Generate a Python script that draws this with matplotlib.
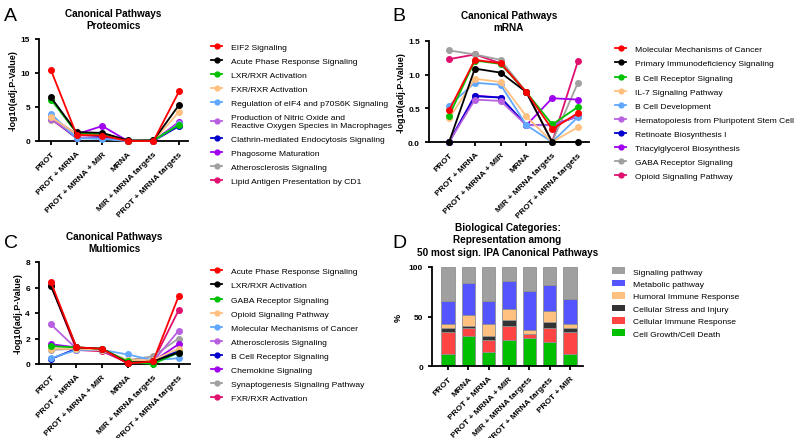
import matplotlib
matplotlib.use("Agg")
import matplotlib.pyplot as plt
from matplotlib.lines import Line2D
from matplotlib.patches import Patch

plt.rcParams['font.family'] = ['Liberation Sans', 'DejaVu Sans']

# === DATA ===
conditions = ['PROT', 'PROT + MRNA', 'PROT + MRNA + MIR', 'MRNA',
              'MIR + MRNA targets', 'PROT + MRNA targets']

prot_names = ['EIF2 Signaling', 'Acute Phase Response Signaling', 'LXR/RXR Activation',
              'FXR/RXR Activation', 'Regulation of eIF4 and p70S6K Signaling',
              'Production of Nitric Oxide and\nReactive Oxygen Species in Macrophages',
              'Clathrin-mediated Endocytosis Signaling', 'Phagosome Maturation',
              'Atherosclerosis Signaling', 'Lipid Antigen Presentation by CD1']
prot_vals = [
    [10.4, 0.9, 0.8, 0.0, 0.0, 7.3],
    [6.4, 1.3, 1.2, 0.1, 0.1, 5.3],
    [6.1, 1.2, 1.0, 0.0, 0.1, 2.4],
    [3.5, 1.0, 0.9, 0.0, 0.0, 4.3],
    [4.0, 0.4, 0.3, 0.0, 0.0, 2.5],
    [3.3, 0.5, 0.4, 0.0, 0.0, 2.6],
    [3.4, 0.4, 0.6, 0.0, 0.0, 2.2],
    [3.5, 1.0, 2.2, 0.0, 0.0, 2.8],
    [3.1, 1.1, 1.1, 0.0, 0.0, 2.5],
    [3.2, 0.5, 0.5, 0.0, 0.0, 2.4],
]

mrna_names = ['Molecular Mechanisms of Cancer', 'Primary Immunodeficiency Signaling',
              'B Cell Receptor Signaling', 'IL-7 Signaling Pathway', 'B Cell Development',
              'Hematopoiesis from Pluripotent Stem Cells', 'Retinoate Biosynthesis I',
              'Triacylglycerol Biosynthesis', 'GABA Receptor Signaling',
              'Opioid Signaling Pathway']
mrna_vals = [
    [0.47, 1.22, 1.17, 0.74, 0.19, 0.43],
    [0.00, 1.09, 1.03, 0.74, 0.00, 0.00],
    [0.39, 1.21, 1.16, 0.74, 0.26, 0.52],
    [0.35, 0.94, 0.89, 0.38, 0.00, 0.22],
    [0.54, 0.88, 0.85, 0.25, 0.00, 0.37],
    [0.00, 0.63, 0.61, 0.25, 0.25, 0.38],
    [0.00, 0.68, 0.66, 0.25, 0.25, 0.38],
    [0.00, 0.69, 0.66, 0.25, 0.65, 0.63],
    [1.36, 1.30, 1.22, 0.74, 0.00, 0.88],
    [1.23, 1.30, 1.17, 0.74, 0.00, 1.20],
]

multi_names = ['Acute Phase Response Signaling', 'LXR/RXR Activation',
               'GABA Receptor Signaling', 'Opioid Signaling Pathway',
               'Molecular Mechanisms of Cancer', 'Atherosclerosis Signaling',
               'B Cell Receptor Signaling', 'Chemokine Signaling',
               'Synaptogenesis Signaling Pathway', 'FXR/RXR Activation']
multi_vals = [
    [6.4, 1.3, 1.2, 0.05, 0.2, 5.3],
    [6.1, 1.3, 1.2, 0.1, 0.2, 0.9],
    [1.4, 1.3, 1.2, 0.2, 0.0, 0.9],
    [1.2, 1.2, 1.1, 0.3, 0.3, 1.2],
    [0.45, 1.1, 1.1, 0.75, 0.3, 0.45],
    [3.1, 1.2, 1.1, 0.1, 0.2, 2.6],
    [0.4, 1.2, 1.1, 0.2, 0.3, 1.0],
    [1.55, 1.3, 1.1, 0.1, 0.2, 1.55],
    [1.1, 1.2, 1.1, 0.3, 0.6, 2.0],
    [6.2, 1.1, 1.0, 0.1, 0.2, 4.2],
]

bar_groups = ['PROT', 'MRNA', 'PROT + MRNA', 'PROT + MRNA + MIR',
              'MIR + MRNA targets', 'PROT + MRNA targets', 'PROT + MIR']
bar_names = ['Cell Growth/Cell Death', 'Cellular Immune Response',
             'Cellular Stress and Injury', 'Humoral Immune Response',
             'Metabolic pathway', 'Signaling pathway']
cell_growth = [12, 30, 14, 26, 28, 24, 12]
cell_immune = [22, 8, 12, 14, 4, 14, 22]
cell_stress = [4, 2, 4, 6, 0, 6, 4]
humoral = [4, 12, 12, 12, 4, 12, 4]
metabolic = [24, 32, 24, 28, 40, 26, 26]
signaling = [34, 16, 34, 14, 24, 18, 32]

line_colors = ['#FF0000', '#000000', '#00C000', '#FFC080', '#60A8FF',
               '#B860E0', '#0000CC', '#A000F0', '#A0A0A0', '#E0106E']
bar_colors = ['#00C000', '#FF4444', '#333333', '#FFC080', '#5555FF', '#A0A0A0']

fig = plt.figure(figsize=(7.94, 4.39), dpi=100)
W, H = 794.0, 439.0


def box(l, t, r, b):
    return [l / W, 1 - b / H, (r - l) / W, (b - t) / H]


def style(ax):
    for s in ['top', 'right']:
        ax.spines[s].set_visible(False)
    for s in ['left', 'bottom']:
        ax.spines[s].set_linewidth(1.3)
    ax.tick_params(width=1.3, length=3, labelsize=6)
    for lab in ax.get_yticklabels():
        lab.set_fontweight('bold')


def line_panel(rect, title, names, vals, ylim, yticks, yfmt, xlim, leg_pos, spacing):
    ax = fig.add_axes(rect)
    x = range(len(conditions))
    for i, v in enumerate(vals):
        ax.plot(x, v, color=line_colors[i], lw=1.3, marker='o', ms=4,
                zorder=20 - i, clip_on=False)
    ax.set_xlim(*xlim)
    ax.set_ylim(*ylim)
    ax.set_yticks(yticks)
    ax.set_yticklabels([yfmt.format(t) for t in yticks])
    ax.set_xticks(list(x))
    ax.set_xticklabels(conditions, rotation=45, ha='right', rotation_mode='anchor',
                       fontweight='bold', fontsize=5.6)
    ax.set_ylabel('-log10(adj.P-Value)', fontsize=6.5, fontweight='bold', labelpad=2)
    ax.set_title(title, fontsize=7.2, fontweight='bold', pad=8)
    style(ax)
    handles = [Line2D([0], [0], color=line_colors[i], lw=1.3, marker='o', ms=3.5)
               for i in range(len(names))]
    fig.legend(handles, names, loc='upper left', bbox_to_anchor=leg_pos,
               frameon=False, fontsize=6.1, handlelength=1.3, handletextpad=1.0,
               labelspacing=spacing, borderaxespad=0)
    return ax


line_panel(box(39, 40, 188, 142), 'Canonical Pathways\nProteomics', prot_names, prot_vals,
           (0, 15), [0, 5, 10, 15], '{:g}', (-0.47, 5.35), (208 / W, 1 - 41 / H), 0.72)
line_panel(box(429, 42, 589, 143), 'Canonical Pathways\nmRNA', mrna_names, mrna_vals,
           (0, 1.5), [0, 0.5, 1.0, 1.5], '{:.1f}', (-0.78, 5.43), (612 / W, 1 - 43 / H), 0.73)
line_panel(box(39, 263, 190, 365), 'Canonical Pathways\nMultiomics', multi_names, multi_vals,
           (0, 8), [0, 2, 4, 6, 8], '{:g}', (-0.47, 5.45), (208 / W, 1 - 265 / H), 0.73)

# Panel D
axd = fig.add_axes(box(432, 268, 583, 367))
series = [cell_growth, cell_immune, cell_stress, humoral, metabolic, signaling]
bottom = [0] * len(bar_groups)
for i, s in enumerate(series):
    axd.bar(range(len(bar_groups)), s, bottom=bottom, width=0.65, color=bar_colors[i],
            edgecolor='#909090', linewidth=0.6)
    bottom = [b + v for b, v in zip(bottom, s)]
axd.set_xlim(-0.79, 6.64)
axd.set_ylim(0, 100)
axd.set_yticks([0, 50, 100])
axd.set_xticks(range(len(bar_groups)))
axd.set_xticklabels(bar_groups, rotation=45, ha='right', rotation_mode='anchor',
                    fontweight='bold', fontsize=5.6)
axd.set_ylabel('%', fontsize=6.5, fontweight='bold')
axd.set_title('Biological Categories:\nRepresentation among\n50 most sign. IPA Canonical Pathways',
              fontsize=7.2, fontweight='bold', pad=9, linespacing=1.3)
style(axd)
patches = [Patch(facecolor=bar_colors[i], edgecolor='none') for i in range(len(bar_names))][::-1]
fig.legend(patches, bar_names[::-1], loc='upper left', bbox_to_anchor=(609 / W, 1 - 265 / H),
           frameon=False, fontsize=6.1, handlelength=1.5, handleheight=0.8,
           handletextpad=0.9, labelspacing=0.5, borderaxespad=0)

# panel letters
for lab, (px, py) in zip('ABCD', [(4, 21), (392, 21), (4, 248), (392, 248)]):
    fig.text(px / W, 1 - py / H, lab, fontsize=14, va='baseline')

fig.savefig('out.png', dpi=100)
